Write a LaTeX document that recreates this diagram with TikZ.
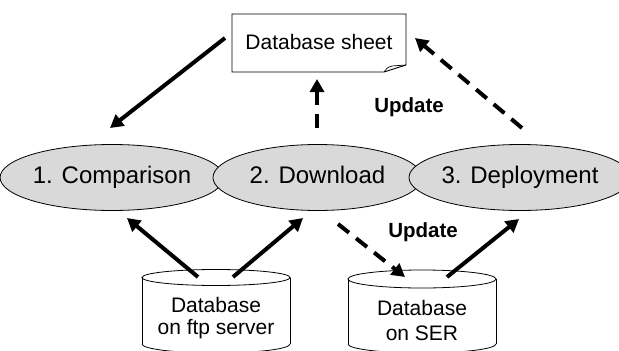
\documentclass[tikz,border=0pt]{standalone}
\usepackage{fontspec}
\setmainfont{Liberation Sans}
\usetikzlibrary{arrows.meta,shapes.geometric}
\begin{document}
\begin{tikzpicture}[x=1pt,y=-1pt,
  proc/.style={ellipse, draw=black, line width=0.8pt, fill=procfill, minimum width=#1, minimum height=66pt, inner sep=0pt, text height=17pt, text depth=5pt, font=\fontsize{24}{26}\selectfont},
  lbl/.style={font=\fontsize{21}{25}\selectfont, align=center, inner sep=0pt},
  upd/.style={font=\bfseries\fontsize{20.5}{24}\selectfont, inner sep=0pt},
  arr/.style={line width=4pt, -{Triangle[length=13pt,width=14pt]}},
  darr/.style={arr, dash pattern=on 14pt off 9pt},
  cyl/.style={line width=0.8pt}
]
\definecolor{procfill}{RGB}{217,217,217}
\useasboundingbox (0,0) rectangle (619,351);
\clip (0,0) rectangle (619,351);

% database sheet
\draw[line width=0.9pt] (232,14) -- (406,14) -- (406,65) -- (384,72) -- (232,72) -- cycle;
\draw[line width=0.7pt] (384,72) .. controls (387,68) and (389,66) .. (392,66) -- (406,65);
\node[lbl] (sheet) at (319,42) {Database sheet};
\coordinate (sheetL) at (225,38);
\coordinate (sheetB) at (317,79);
\coordinate (sheetR) at (415,38);

% processes
\node[proc=204pt] (comp) at (112,177.5) {1. Comparison};
\node[proc=209pt] (down) at (317.5,177.5) {2. Download};
\node[proc=198pt] (depl) at (520,177.5) {3. Deployment};

% cylinders
\draw[cyl] (142,277.5) -- (142,344) (290,277.5) -- (290,344);
\draw[cyl] (216,277.5) ellipse [x radius=74, y radius=8];
\draw[cyl] (348,279) -- (348,344) (496,279) -- (496,344);
\draw[cyl] (422,279) ellipse [x radius=74, y radius=9];
\draw[cyl] (142,344) arc[start angle=180,end angle=0,x radius=74,y radius=9];
\draw[cyl] (348,344) arc[start angle=180,end angle=0,x radius=74,y radius=9];
\node[lbl] (ftp) at (216,318.5) {Database\\[-3pt]on ftp server};
\node[lbl] (ser) at (422,320) {Database\\[0pt]on SER};
\coordinate (ftpA) at (198,277);
\coordinate (ftpB) at (233,277);
\coordinate (serA) at (405,277);
\coordinate (serB) at (447,277);

% update labels
\node[upd] (upd1) at (409,107) {Update};
\node[upd] (upd2) at (423,232) {Update};

% arrows
\draw[arr] (sheetL) -- (110,128);
\draw[darr] (317,128) -- (sheetB);
\draw[darr] (522,128) -- (sheetR);
\draw[arr] (ftpA) -- (127,218);
\draw[arr] (ftpB) -- (303,218);
\draw[darr] (338,224) -- (serA);
\draw[arr] (serB) -- (519,219);
\end{tikzpicture}
\end{document}
